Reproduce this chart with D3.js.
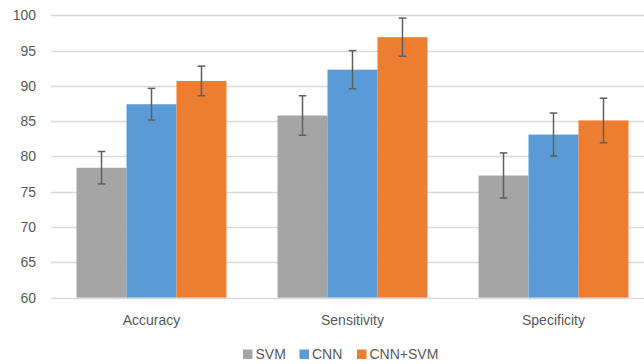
<!DOCTYPE html>
<html><head><meta charset="utf-8">
<script src="https://cdn.jsdelivr.net/npm/d3@7/dist/d3.min.js"></script>
<style>body{margin:0;background:#fff}svg{display:block;font-family:"Liberation Sans",Arial,sans-serif}</style>
</head><body><svg id="c" width="644" height="364"></svg>
<script>
const categories = ["Accuracy", "Sensitivity", "Specificity"];
const seriesNames = ["SVM", "CNN", "CNN+SVM"];
const svmValues = [78.4, 85.8, 77.3];
const cnnValues = [87.4, 92.3, 83.1];
const cnnSvmValues = [90.7, 96.9, 85.1];
const svmErrors = [2.3, 2.8, 3.2];
const cnnErrors = [2.25, 2.7, 3.05];
const cnnSvmErrors = [2.1, 2.7, 3.15];
const yTicks = [60, 65, 70, 75, 80, 85, 90, 95, 100];
const colors = ["#a5a5a5", "#5b9bd5", "#ed7d31"];

const values = [svmValues, cnnValues, cnnSvmValues];
const errors = [svmErrors, cnnErrors, cnnSvmErrors];
const svg = d3.select("#c");

const x = d3.scaleBand().domain(categories).range([51, 654]).paddingInner(0.254).paddingOuter(0.127);
const xs = d3.scaleBand().domain(seriesNames).range([0, x.bandwidth()]);
const y = d3.scaleLinear().domain([60, 100]).range([297.6, 15.3]);

// gridlines
svg.append("g").selectAll("line").data(yTicks).join("line")
  .attr("x1", 51).attr("x2", 644)
  .attr("y1", d => Math.round(y(d)) + 0.5).attr("y2", d => Math.round(y(d)) + 0.5)
  .attr("stroke", "#d9d9d9").attr("stroke-width", 1.3);

// y tick labels
svg.append("g").selectAll("text").data(yTicks).join("text")
  .attr("x", 36).attr("y", d => y(d)).attr("dy", "0.36em")
  .attr("text-anchor", "end").attr("font-size", 14).attr("fill", "#595959")
  .text(d => d);

// bars
const rows = [];
seriesNames.forEach((s, si) => categories.forEach((c, ci) => rows.push({s, si, c, v: values[si][ci], e: errors[si][ci]})));
svg.append("g").selectAll("rect").data(rows).join("rect")
  .attr("x", d => x(d.c) + xs(d.s)).attr("width", xs.bandwidth())
  .attr("y", d => y(d.v)).attr("height", d => y(60) - y(d.v))
  .attr("fill", d => colors[d.si]);

// error bars
const eg = svg.append("g").attr("stroke", "#5f5f5f").attr("stroke-width", 1.5).attr("fill", "none");
rows.forEach(d => {
  const cx = x(d.c) + xs(d.s) + xs.bandwidth() / 2;
  eg.append("line").attr("x1", cx).attr("x2", cx).attr("y1", y(d.v + d.e)).attr("y2", y(d.v - d.e));
  eg.append("line").attr("x1", cx - 3.8).attr("x2", cx + 3.8).attr("y1", y(d.v + d.e)).attr("y2", y(d.v + d.e));
  eg.append("line").attr("x1", cx - 3.8).attr("x2", cx + 3.8).attr("y1", y(d.v - d.e)).attr("y2", y(d.v - d.e));
});

// category labels
svg.append("g").selectAll("text").data(categories).join("text")
  .attr("x", d => x(d) + x.bandwidth() / 2).attr("y", 324.5)
  .attr("text-anchor", "middle").attr("font-size", 14).attr("fill", "#595959")
  .text(d => d);

// legend
const legX = [243, 299.5, 357];
const lg = svg.append("g");
seriesNames.forEach((s, i) => {
  lg.append("rect").attr("x", legX[i]).attr("y", 349.5).attr("width", 9.5).attr("height", 9.5).attr("fill", colors[i]);
  lg.append("text").attr("x", legX[i] + 12.5).attr("y", 359.3).attr("font-size", 14).attr("fill", "#595959").text(s);
});
</script></body></html>
